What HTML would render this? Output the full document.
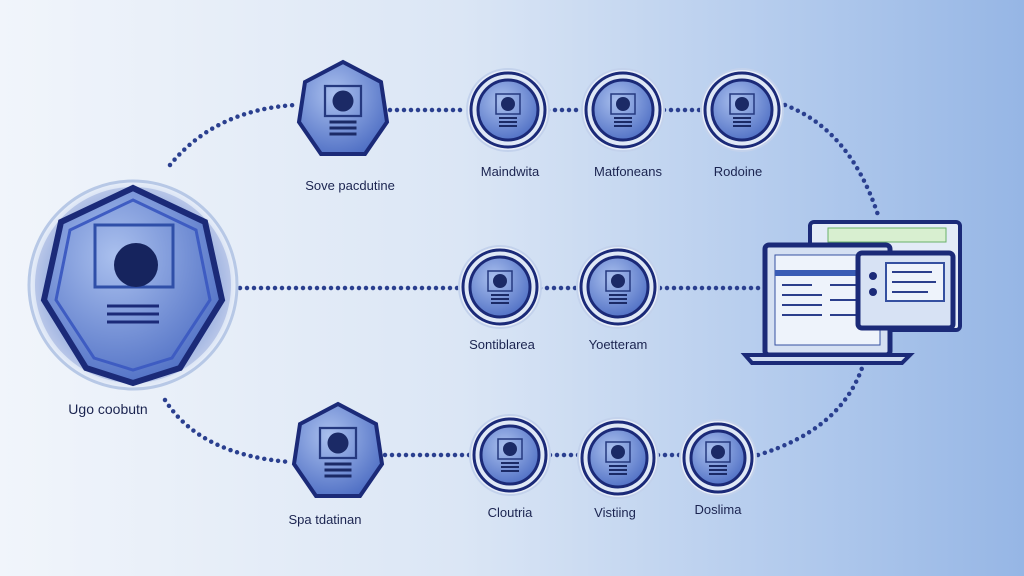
<!DOCTYPE html>
<html><head><meta charset="utf-8"><style>
body{margin:0;width:1024px;height:576px;overflow:hidden;background:linear-gradient(90deg,#f1f5fb 0%,#dbe6f5 45%,#afc8ec 80%,#96b6e5 100%);font-family:"Liberation Sans",sans-serif}
svg{position:absolute;left:0;top:0}
</style></head><body>
<svg width="1024" height="576" viewBox="0 0 1024 576">
<defs>
<radialGradient id="g" cx="40%" cy="35%" r="70%"><stop offset="0" stop-color="#aac0ee"/><stop offset="1" stop-color="#4f6fc4"/></radialGradient>
<radialGradient id="ring" cx="50%" cy="50%" r="50%"><stop offset="0.85" stop-color="#c7d6f0"/><stop offset="1" stop-color="#e9eff9"/></radialGradient>
<g id="icon">
<rect x="-12" y="-16" width="24" height="20" fill="none" stroke="#25397f" stroke-width="1.5"/>
<circle cx="0" cy="-6" r="7" fill="#1b2a66"/>
<path d="M-9 8h18M-9 12h18M-9 16h18" stroke="#1b2a66" stroke-width="2"/>
</g>
</defs>
<g fill="none" stroke="#2a3f8f" stroke-width="4.5" stroke-linecap="round" stroke-dasharray="0 7">
<path d="M170 165 Q215 110 295 105"/>
<path d="M390 110 H465 M548 110 H583 M664 110 H702"/>
<path d="M785 105 Q850 130 878 215"/>
<path d="M240 288 H460 M540 288 H580 M660 288 H760"/>
<path d="M165 400 Q200 455 290 462"/>
<path d="M385 455 H470 M550 455 H580 M658 455 H682"/>
<path d="M758 455 Q840 430 862 368"/>
</g>
<circle cx="133" cy="285" r="104" fill="url(#ring)" stroke="#b7c8e6" stroke-width="3"/>
<circle cx="133" cy="285" r="98" fill="#4c69c0" opacity=".25"/>
<polygon points="133,188 205,222 222,300 180,368 133,383 86,368 44,300 61,222" fill="url(#g)" stroke="#1b2a78" stroke-width="6"/>
<polygon points="133,200 196,230 210,300 172,358 133,370 94,358 56,300 70,230" fill="none" stroke="#3e5cc2" stroke-width="3"/>
<rect x="95" y="225" width="78" height="62" fill="none" stroke="#2f4fa8" stroke-width="3"/>
<circle cx="136" cy="265" r="22" fill="#16245e"/>
<path d="M107 306h52M107 314h52M107 322h52" stroke="#1b2a78" stroke-width="3"/>
<g transform="translate(343,110)">
<polygon points="0,-48 38,-28 44,12 22,44 -22,44 -44,12 -38,-28" fill="url(#g)" stroke="#1b2a78" stroke-width="4"/>
<use href="#icon" transform="scale(1.5)"/></g>
<g transform="translate(338,452)">
<polygon points="0,-48 38,-28 44,12 22,44 -22,44 -44,12 -38,-28" fill="url(#g)" stroke="#1b2a78" stroke-width="4"/>
<use href="#icon" transform="scale(1.5)"/></g>
<g fill="#e8eef9" stroke="#c3d2ec" stroke-width="2">
<circle cx="508" cy="110" r="41"/><circle cx="623" cy="110" r="41"/><circle cx="742" cy="110" r="41"/>
<circle cx="500" cy="287" r="41"/><circle cx="618" cy="287" r="41"/>
<circle cx="510" cy="455" r="40"/><circle cx="618" cy="458" r="40"/><circle cx="718" cy="458" r="38"/>
</g>
<g stroke="#1b2a78" stroke-width="3">
<circle cx="508" cy="110" r="37" fill="#dfe8f6"/><circle cx="508" cy="110" r="30" fill="url(#g)"/>
<circle cx="623" cy="110" r="37" fill="#dfe8f6"/><circle cx="623" cy="110" r="30" fill="url(#g)"/>
<circle cx="742" cy="110" r="37" fill="#dfe8f6"/><circle cx="742" cy="110" r="30" fill="url(#g)"/>
<circle cx="500" cy="287" r="37" fill="#dfe8f6"/><circle cx="500" cy="287" r="30" fill="url(#g)"/>
<circle cx="618" cy="287" r="37" fill="#dfe8f6"/><circle cx="618" cy="287" r="30" fill="url(#g)"/>
<circle cx="510" cy="455" r="36" fill="#dfe8f6"/><circle cx="510" cy="455" r="29" fill="url(#g)"/>
<circle cx="618" cy="458" r="36" fill="#dfe8f6"/><circle cx="618" cy="458" r="29" fill="url(#g)"/>
<circle cx="718" cy="458" r="34" fill="#dfe8f6"/><circle cx="718" cy="458" r="27" fill="url(#g)"/>
</g>
<use href="#icon" x="508" y="110"/><use href="#icon" x="623" y="110"/><use href="#icon" x="742" y="110"/>
<use href="#icon" x="500" y="287"/><use href="#icon" x="618" y="287"/>
<use href="#icon" x="510" y="455"/><use href="#icon" x="618" y="458"/><use href="#icon" x="718" y="458"/>
<rect x="810" y="222" width="150" height="108" rx="4" fill="#e3ebf7" stroke="#1b2a78" stroke-width="4"/>
<rect x="828" y="228" width="118" height="14" fill="#d8efd0" stroke="#6ab06a"/>
<rect x="765" y="245" width="125" height="110" rx="4" fill="#d5e0f2" stroke="#1b2a78" stroke-width="5"/>
<rect x="775" y="255" width="105" height="90" fill="#eef3fb" stroke="#3550a0"/>
<rect x="775" y="270" width="105" height="6" fill="#3a5cb5"/>
<path d="M782 285h30M782 295h40M782 305h40M782 315h40M830 285h35M830 300h35M830 315h35" stroke="#2c3f8c" stroke-width="2"/>
<path d="M745 355h165l-8 8h-150z" fill="#cfdcf1" stroke="#1b2a78" stroke-width="4"/>
<rect x="858" y="253" width="95" height="75" rx="4" fill="#d7e2f4" stroke="#1b2a78" stroke-width="5"/>
<rect x="886" y="263" width="58" height="38" fill="#eef3fb" stroke="#3550a0" stroke-width="2"/>
<circle cx="873" cy="276" r="4" fill="#1b2a78"/><circle cx="873" cy="292" r="4" fill="#1b2a78"/>
<path d="M892 272h40M892 282h44M892 292h36" stroke="#2c3f8c" stroke-width="2"/>
<g font-size="13" fill="#1b2450" text-anchor="middle">
<text x="350" y="190">Sove pacdutine</text>
<text x="510" y="176">Maindwita</text>
<text x="628" y="176">Matfoneans</text>
<text x="738" y="176">Rodoine</text>
<text x="502" y="349">Sontiblarea</text>
<text x="618" y="349">Yoetteram</text>
<text x="108" y="414" font-size="14">Ugo coobutn</text>
<text x="325" y="524">Spa tdatinan</text>
<text x="510" y="517">Cloutria</text>
<text x="615" y="517">Vistiing</text>
<text x="718" y="514">Doslima</text>
</g>
</svg>
</body></html>
